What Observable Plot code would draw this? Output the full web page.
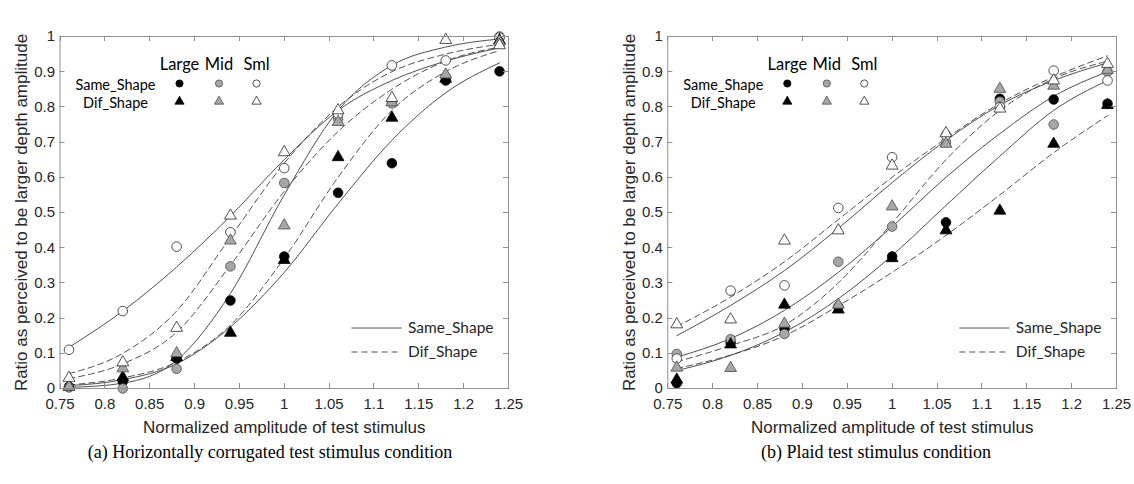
<!DOCTYPE html>
<html><head><meta charset="utf-8">
<script src="https://cdn.jsdelivr.net/npm/d3@7"></script>
<script src="https://cdn.jsdelivr.net/npm/@observablehq/plot@0.6"></script>
<style>
body{margin:0;background:#fff;}
#wrap{position:relative;width:1134px;height:484px;overflow:hidden;background:#fff;}
.panel{position:absolute;top:0;}
.cap{position:absolute;top:442px;font-family:"Liberation Serif","Times New Roman",serif;font-size:18px;color:#000;white-space:nowrap;transform:translateX(-50%);}
</style></head><body>
<div id="wrap">
<div id="pa" class="panel" style="left:0"></div>
<div id="pb" class="panel" style="left:567px"></div>
<div class="cap" style="left:270px">(a) Horizontally corrugated test stimulus condition</div>
<div class="cap" style="left:876px">(b) Plaid test stimulus condition</div>
</div>
<script>
// ---------- data ----------
const amplitudes = [0.76, 0.82, 0.88, 0.94, 1.00, 1.06, 1.12, 1.18, 1.24];
const sizes = ["Large", "Mid", "Sml"];
const shapes = ["Same_Shape", "Dif_Shape"];
const xTicks = [0.75, 0.8, 0.85, 0.9, 0.95, 1, 1.05, 1.1, 1.15, 1.2, 1.25];
const xTickLabels = ["0.75", "0.8", "0.85", "0.9", "0.95", "1", "1.05", "1.1", "1.15", "1.2", "1.25"];
const yTicks = [0, 0.1, 0.2, 0.3, 0.4, 0.5, 0.6, 0.7, 0.8, 0.9, 1];
const yTickLabels = ["0", "0.1", "0.2", "0.3", "0.4", "0.5", "0.6", "0.7", "0.8", "0.9", "1"];
const xLabel = "Normalized amplitude of test stimulus";
const yLabel = "Ratio as perceived to be larger depth amplitude";

// Panel (a): observed ratios
const aSameLarge = [0.005, 0.02, 0.085, 0.25, 0.375, 0.556, 0.64, 0.875, 0.901];
const aSameMid   = [0.003, 0.0, 0.056, 0.347, 0.584, 0.766, 0.81, 0.885, 1.0];
const aSameSml   = [0.11, 0.22, 0.403, 0.444, 0.626, 0.78, 0.918, 0.932, 0.997];
const aDifLarge  = [0.005, 0.032, 0.089, 0.158, 0.365, 0.657, 0.769, 0.88, 0.989];
const aDifMid    = [0.005, 0.057, 0.1, 0.42, 0.463, 0.757, 0.813, 0.892, 0.985];
const aDifSml    = [0.03, 0.074, 0.172, 0.491, 0.671, 0.79, 0.825, 0.99, 0.975];
// Panel (a): fitted curves (read at the test amplitudes)
const aFitSameLarge = [0.008, 0.025, 0.07, 0.175, 0.33, 0.525, 0.705, 0.84, 0.925];
const aFitSameMid   = [0.003, 0.015, 0.08, 0.27, 0.55, 0.79, 0.918, 0.97, 0.993];
const aFitSameSml   = [0.117, 0.22, 0.345, 0.49, 0.65, 0.79, 0.875, 0.93, 0.968];
const aFitDifLarge  = [0.01, 0.03, 0.075, 0.18, 0.37, 0.6, 0.79, 0.9, 0.96];
const aFitDifMid    = [0.028, 0.07, 0.16, 0.35, 0.56, 0.73, 0.85, 0.93, 0.97];
const aFitDifSml    = [0.042, 0.1, 0.22, 0.43, 0.64, 0.8, 0.9, 0.95, 0.978];

// Panel (b): observed ratios
const bSameLarge = [0.015, 0.13, 0.17, 0.232, 0.375, 0.472, 0.823, 0.821, 0.809];
const bSameMid   = [0.098, 0.14, 0.155, 0.36, 0.46, 0.70, 0.815, 0.75, 0.90];
const bSameSml   = [0.085, 0.278, 0.293, 0.513, 0.657, 0.72, 0.80, 0.903, 0.875];
const bDifLarge  = [0.025, 0.125, 0.238, 0.224, 0.37, 0.449, 0.505, 0.695, 0.805];
const bDifMid    = [0.059, 0.058, 0.184, 0.238, 0.517, 0.695, 0.851, 0.86, 0.905];
const bDifSml    = [0.182, 0.196, 0.42, 0.449, 0.633, 0.725, 0.795, 0.875, 0.922];
// Panel (b): fitted curves
const bFitSameLarge = [0.051, 0.094, 0.16, 0.255, 0.378, 0.52, 0.66, 0.79, 0.875];
const bFitSameMid   = [0.089, 0.142, 0.222, 0.33, 0.46, 0.6, 0.724, 0.83, 0.9];
const bFitSameSml   = [0.15, 0.236, 0.335, 0.455, 0.585, 0.705, 0.805, 0.875, 0.925];
const bFitDifLarge  = [0.057, 0.095, 0.15, 0.235, 0.33, 0.435, 0.55, 0.67, 0.775];
const bFitDifMid    = [0.076, 0.122, 0.18, 0.3, 0.47, 0.65, 0.79, 0.88, 0.93];
const bFitDifSml    = [0.176, 0.26, 0.36, 0.48, 0.6, 0.71, 0.81, 0.885, 0.945];

// ---------- drawing ----------
const fillOf = {Large: "#000000", Mid: "#a6a6a6", Sml: "#ffffff"};
const strokeOf = {Large: "#000000", Mid: "#4d4d4d", Sml: "#262626"};
const textColor = "#262626";

function rows(ys, shape, size) {
  return amplitudes.map((x, i) => ({x, y: ys[i], shape, size}));
}

function makePanel(obs, fits, ml, mr) {
  const points = [], lines = [];
  shapes.forEach((sh, si) => sizes.forEach((sz, zi) => {
    points.push(...rows(obs[si][zi], sh, sz));
    lines.push(...rows(fits[si][zi], sh, sz));
  }));
  const same = d => d.shape === "Same_Shape";
  const dif = d => d.shape === "Dif_Shape";
  const plot = Plot.plot({
    width: 567, height: 430,
    marginLeft: ml, marginRight: mr, marginTop: 36, marginBottom: 42,
    x: {domain: [0.75, 1.25]},
    y: {domain: [0, 1]},
    style: {fontFamily: "'Liberation Sans', Arial, sans-serif", fontSize: "15px", color: textColor, background: "#fff", overflow: "visible"},
    marks: [
      Plot.line(lines.filter(same), {x: "x", y: "y", z: "size", curve: "monotone-x", stroke: "#3c3c3c", strokeWidth: 0.9}),
      Plot.line(lines.filter(dif), {x: "x", y: "y", z: "size", curve: "monotone-x", stroke: "#3c3c3c", strokeWidth: 0.9, strokeDasharray: "6,4"}),
      Plot.dot(points.filter(same), {x: "x", y: "y", r: 4.8, symbol: "circle", fill: d => fillOf[d.size], stroke: d => strokeOf[d.size], strokeWidth: 0.8}),
      Plot.dot(points.filter(dif), {x: "x", y: "y", r: 4.4, symbol: "triangle", fill: d => fillOf[d.size], stroke: d => strokeOf[d.size], strokeWidth: 0.8}),
      Plot.frame({stroke: "#8f8f8f", strokeWidth: 1}),
      Plot.axisX({ticks: xTicks, tickFormat: d => xTickLabels[xTicks.indexOf(d)], tickSize: 0, tickPadding: 10, label: null}),
      Plot.axisY({ticks: yTicks, tickFormat: d => yTickLabels[yTicks.indexOf(d)], tickSize: 0, tickPadding: 5, label: null}),
      Plot.text([xLabel], {text: d => d, frameAnchor: "bottom", textAnchor: "middle", lineAnchor: "middle", dy: 39, fontSize: 17, fill: textColor}),
      Plot.text([yLabel], {text: d => d, frameAnchor: "left", textAnchor: "middle", lineAnchor: "middle", rotate: -90, dx: -38, fontSize: 17, fill: textColor})
    ]
  });
  const sx = plot.scale("x"), sy = plot.scale("y");
  const svg = d3.select(plot);
  const L = sx.apply(0.75), R = sx.apply(1.25), T = sy.apply(1), B = sy.apply(0);
  // inward ticks on all four sides
  const tg = svg.append("g").attr("stroke", "#8f8f8f").attr("stroke-width", 1);
  xTicks.forEach(v => {
    const px = Math.round(sx.apply(v)) + 0.5;
    tg.append("line").attr("x1", px).attr("x2", px).attr("y1", B).attr("y2", B - 5);
    tg.append("line").attr("x1", px).attr("x2", px).attr("y1", T).attr("y2", T + 5);
  });
  yTicks.forEach(v => {
    const py = Math.round(sy.apply(v)) + 0.5;
    tg.append("line").attr("x1", L).attr("x2", L + 5).attr("y1", py).attr("y2", py);
    tg.append("line").attr("x1", R).attr("x2", R - 5).attr("y1", py).attr("y2", py);
  });
  // marker table legend (top-left)
  const lg = svg.append("g").attr("font-family", "Lato, 'Open Sans', sans-serif").attr("fill", "#000");
  const colX = [L + 120, L + 159.5, L + 197];
  sizes.forEach((s, i) => lg.append("text").attr("x", colX[i]).attr("y", 64).attr("dy", "0.35em")
    .attr("text-anchor", "middle").attr("font-size", 16.5).text(s));
  const rowY = [83.5, 101.5];
  shapes.forEach((sh, r) => {
    lg.append("text").attr("x", L + 56).attr("y", rowY[r] + 1).attr("dy", "0.35em")
      .attr("text-anchor", "middle").attr("font-size", 14.5).text(sh);
    sizes.forEach((s, i) => {
      if (r === 0) {
        lg.append("circle").attr("cx", colX[i]).attr("cy", rowY[r]).attr("r", 3.6)
          .attr("fill", fillOf[s]).attr("stroke", strokeOf[s]).attr("stroke-width", 0.8);
      } else {
        lg.append("path").attr("transform", `translate(${colX[i]},${rowY[r]})`)
          .attr("d", d3.symbol(d3.symbolTriangle, Math.PI * 3.4 * 3.4)())
          .attr("fill", fillOf[s]).attr("stroke", strokeOf[s]).attr("stroke-width", 0.8);
      }
    });
  });
  // line-style legend (bottom-right)
  const lineY = [328, 352];
  shapes.forEach((sh, r) => {
    lg.append("line").attr("x1", L + 292).attr("x2", L + 342).attr("y1", lineY[r]).attr("y2", lineY[r])
      .attr("stroke", "#3c3c3c").attr("stroke-width", 0.9).attr("stroke-dasharray", r ? "6,4" : null);
    lg.append("text").attr("x", L + 348.5).attr("y", lineY[r]).attr("dy", "0.35em")
      .attr("text-anchor", "start").attr("font-size", 15.5).attr("fill", textColor).text(sh);
  });
  return plot;
}

document.getElementById("pa").append(makePanel(
  [[aSameLarge, aSameMid, aSameSml], [aDifLarge, aDifMid, aDifSml]],
  [[aFitSameLarge, aFitSameMid, aFitSameSml], [aFitDifLarge, aFitDifMid, aFitDifSml]],
  59.5, 59));
document.getElementById("pb").append(makePanel(
  [[bSameLarge, bSameMid, bSameSml], [bDifLarge, bDifMid, bDifSml]],
  [[bFitSameLarge, bFitSameMid, bFitSameSml], [bFitDifLarge, bFitDifMid, bFitDifSml]],
  100.3, 18));
</script>
</body></html>
